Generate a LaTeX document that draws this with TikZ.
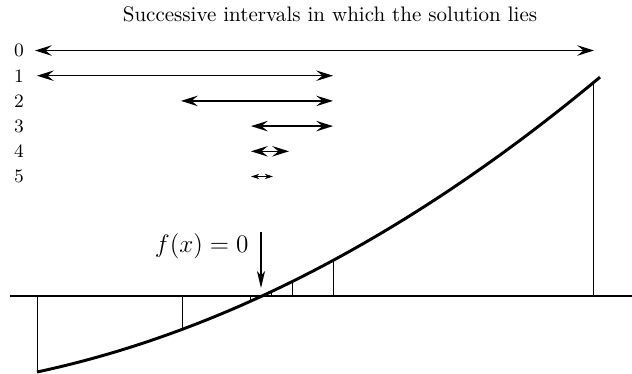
\documentclass[tikz,border=0pt]{standalone}
\usepackage{tikz}
\usetikzlibrary{arrows.meta, positioning}
\tikzset{
    axisline/.style={line width=0.8pt},
    curveline/.style={line width=1.4pt},
    ordinate/.style={line width=0.4pt},
    interval/.style={{Stealth[length=8pt, width=5pt, inset=3pt]}-{Stealth[length=8pt, width=5pt, inset=3pt]}, line width=0.6pt},
    tinyinterval/.style={{Stealth[length=4pt, width=2.6pt, inset=1.4pt]}-{Stealth[length=4pt, width=2.6pt, inset=1.4pt]}, line width=0.5pt},
    rowlabel/.style={font=\small, inner sep=0pt},
    pointer/.style={-{Stealth[length=8pt, width=3.8pt, inset=2pt]}, line width=0.6pt}
}

\begin{document}
\begin{tikzpicture}[x=0.476pt, y=-0.476pt,
    declare function={fy(\t)=296-(5.5*(\t/100)^2+17.34*(\t/100)-83.18);}]
    \useasboundingbox (0,0) rectangle (632,374);
    % Title
    \node (title) at (330,14) {Successive intervals in which the solution lies};

    % Axis and curve
    \coordinate (axl) at (10,296);
    \coordinate (axr) at (632,296);
    \draw[axisline] (axl) -- (axr);
    \draw[curveline] plot[domain=37:600, samples=60, smooth] (\x, {fy(\x)});

    % Ordinates at the end points of the intervals
    \foreach \xa [count=\i] in {37,182,250,271,292,333,593} {
        \coordinate (foot\i) at (\xa,296);
        \coordinate (top\i) at (\xa,{fy(\xa)});
        \draw[ordinate] (foot\i) -- (top\i);
    }

    % Successive intervals
    \foreach \row/\lo/\hi in {0/35/594, 1/37/333, 2/181/333, 3/251/333, 4/251/289, 5/251/273} {
        \node[rowlabel] (lab\row) at (19,50.5+25.2*\row) {\row};
        \coordinate (lo\row) at (\lo,50.5+25.2*\row);
        \coordinate (hi\row) at (\hi,50.5+25.2*\row);
    }
    \foreach \row in {0,...,4}
        \draw[interval] (lo\row) -- (hi\row);
    \draw[tinyinterval] (lo5) -- (hi5);

    % Root marker
    \coordinate (ptop) at (261,232);
    \coordinate (ptip) at (261,288);
    \draw[pointer] (ptop) -- (ptip);
    \node[font=\large, anchor=east] (root) at (256,246) {$f(x)=0$};
\end{tikzpicture}
\end{document}
